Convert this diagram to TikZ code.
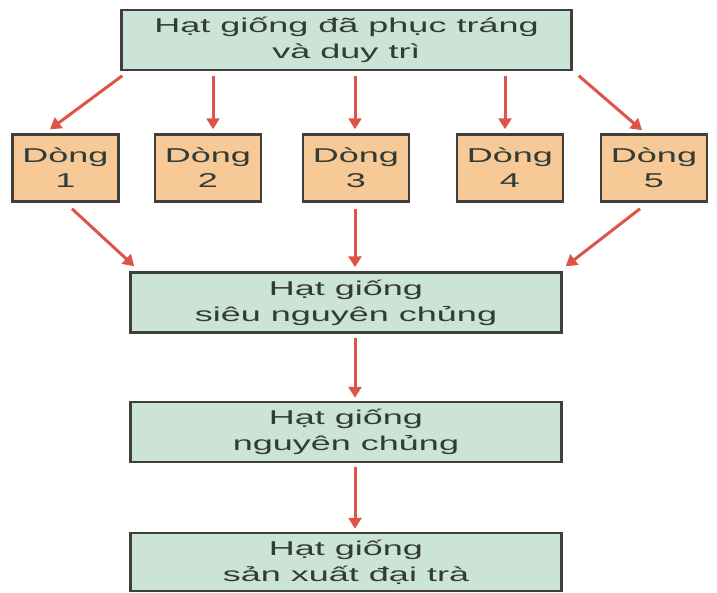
\documentclass[tikz,border=0pt]{standalone}
\usepackage{fontspec}
\setmainfont{Liberation Sans}[FakeStretch=1.8]
\usetikzlibrary{arrows.meta}
\definecolor{boxgreen}{RGB}{204,228,214}
\definecolor{boxorange}{RGB}{246,201,150}
\definecolor{edgegray}{RGB}{62,64,60}
\definecolor{txtgray}{RGB}{50,60,55}
\definecolor{arrred}{RGB}{222,84,70}
\begin{document}
\begin{tikzpicture}[x=1pt,y=-1pt,
  gbox/.style={draw=edgegray,line width=2.5pt,fill=boxgreen,rectangle,inner sep=0pt,
    align=center,text=txtgray,font=\fontsize{20}{26}\selectfont,minimum height=60pt},
  obox/.style={draw=edgegray,line width=2.5pt,fill=boxorange,rectangle,inner sep=0pt,
    align=center,text=txtgray,font=\fontsize{20}{25}\selectfont,minimum width=106pt,minimum height=67pt},
  arr/.style={draw=arrred,line width=3pt,-{Triangle[length=11pt,width=13pt]}}]
\useasboundingbox (0,0) rectangle (717,592);
\node[gbox,minimum width=450pt] (top) at (346.5,40) {Hạt giống đã phục tráng\\và duy trì};
\node[obox] (d1) at (65.5,168) {Dòng\\1};
\node[obox] (d2) at (208,168) {Dòng\\2};
\node[obox] (d3) at (356,168) {Dòng\\3};
\node[obox] (d4) at (510,168) {Dòng\\4};
\node[obox] (d5) at (654,168) {Dòng\\5};
\node[gbox,minimum width=431pt] (s1) at (346,302.5) {Hạt giống\\siêu nguyên chủng};
\node[gbox,minimum width=431pt] (s2) at (346,432) {Hạt giống\\nguyên chủng};
\node[gbox,minimum width=431pt,minimum height=58pt] (s3) at (346,562) {Hạt giống\\sản xuất đại trà};
\draw[arr] ([shift={(2,4.5)}]top.south west) -- ([shift={(-15.5,-4)}]d1.north);
\draw[arr] ([shift={(-133.5,5)}]top.south) -- ([shift={(5,-4)}]d2.north);
\draw[arr] ([shift={(8.5,5)}]top.south) -- ([shift={(-1,-4)}]d3.north);
\draw[arr] ([shift={(158.5,5)}]top.south) -- ([shift={(-5,-4)}]d4.north);
\draw[arr] ([shift={(6,4.5)}]top.south east) -- ([shift={(-12,-3)}]d5.north);
\draw[arr] ([shift={(6.5,6)}]d1.south) -- ([shift={(5,-5)}]s1.north west);
\draw[arr] ([shift={(-1,6)}]d3.south) -- ([shift={(9,-4)}]s1.north);
\draw[arr] ([shift={(-14,6)}]d5.south) -- ([shift={(3,-5)}]s1.north east);
\draw[arr] ([shift={(9,4)}]s1.south) -- ([shift={(9,-3)}]s2.north);
\draw[arr] ([shift={(9,4)}]s2.south) -- ([shift={(9,-3)}]s3.north);
\end{tikzpicture}
\end{document}
